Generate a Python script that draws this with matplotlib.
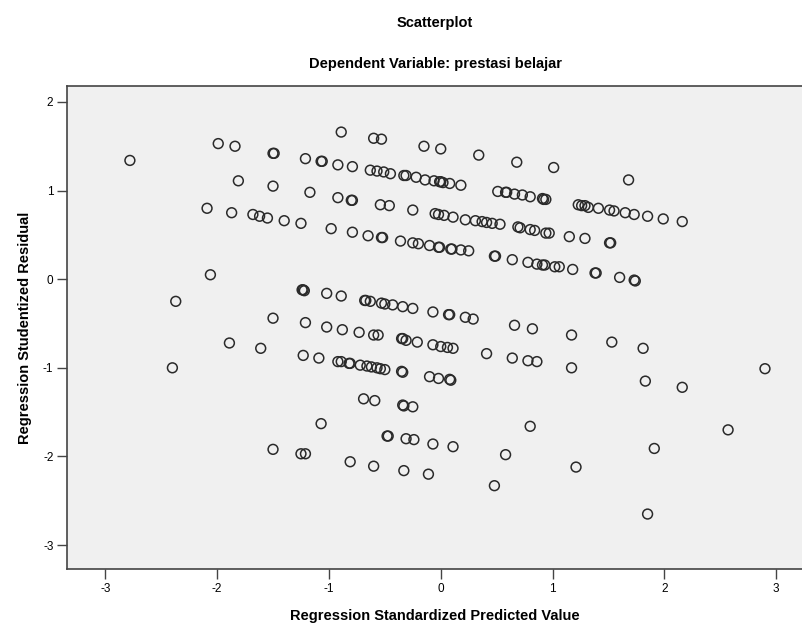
import numpy as np
import matplotlib.pyplot as plt

plt.rcParams['font.family'] = ['Liberation Sans', 'DejaVu Sans']
plt.rcParams['axes.unicode_minus'] = False

# regression standardized predicted value
pred = [-2.78, -1.99, -1.84, -1.50, -1.49, -1.21, -1.81, -1.50, -1.17, -2.09,
        -1.87, -1.68, -1.62, -1.55, -1.40, -1.25,
        -0.89, -0.60, -0.53, -0.15, 0.00, 0.34, 0.68, 1.01, 1.68,
        -1.07, -1.06, -0.92, -0.79, -0.63, -0.57, -0.51, -0.45, -0.33, -0.31,
        -0.22, -0.14, -0.06, -0.01, 0.00, 0.02, 0.08, 0.18, 0.51, 0.58, 0.59,
        0.66, 0.73, 0.80, 0.91, 0.92, 0.94, 1.23, 1.26, 1.29, 1.32, 1.41,
        1.51, 1.55, 1.65, 1.73, 1.85, 1.99, 2.16,
        -0.92, -0.80, -0.79, -0.54, -0.46, -0.25, -0.05, -0.02, 0.03, 0.11,
        0.22, 0.31, 0.37, 0.41, 0.46, 0.53, 0.69, 0.71, 0.80, 0.84, 0.94,
        0.97, 1.15, 1.29, 1.51, 1.52,
        -0.98, -0.79, -0.65, -0.53, -0.52, -0.36, -0.25, -0.20, -0.10, -0.02,
        -0.01, 0.09, 0.10, 0.18, 0.25, 0.48, 0.49, 0.64, 0.78, 0.86, 0.91,
        0.93, 1.02, 1.06, 1.18, 1.38, 1.39, 1.60, 1.73, 1.74,
        -2.06, -2.37, -1.50, -1.89, -1.61, -2.40,
        -1.24, -1.23, -1.22, -1.02, -0.89, -0.68, -0.67, -0.63, -0.53, -0.50,
        -0.43, -0.34, -0.25, -0.07, 0.07, 0.08, 0.22, 0.29,
        -1.21, -1.02, -0.88, -0.73, -0.60, -0.56, -0.35, -0.34, -0.31, -0.21,
        -0.07, 0.00, 0.06, 0.11, 0.66, 0.82, 1.17, 1.53, 1.81,
        -1.23, -1.09, -0.92, -0.89, -0.82, -0.81, -0.72, -0.66, -0.62, -0.57,
        -0.54, -0.50, -0.35, -0.34, -0.10, -0.02, 0.08, 0.09, 0.41, 0.64,
        0.78, 0.86, 1.17, 1.83, 2.16, 2.90,
        -0.69, -0.59, -0.34, -0.33, -0.25,
        -1.07, -0.48, -0.47, -0.31, -0.24, -0.07, 0.11, 0.80, 0.58, -0.81,
        -0.60, -0.33, -0.11, 0.48, -1.50, -1.25, -1.21, 2.57, 1.91, 1.21, 1.85]

# regression studentized residual
resid = [1.34, 1.53, 1.50, 1.42, 1.42, 1.36, 1.11, 1.05, 0.98, 0.80,
         0.75, 0.73, 0.71, 0.69, 0.66, 0.63,
         1.66, 1.59, 1.58, 1.50, 1.47, 1.40, 1.32, 1.26, 1.12,
         1.33, 1.33, 1.29, 1.27, 1.23, 1.22, 1.21, 1.19, 1.17, 1.17,
         1.15, 1.12, 1.11, 1.10, 1.10, 1.09, 1.08, 1.06, 0.99, 0.98, 0.98,
         0.96, 0.95, 0.93, 0.91, 0.90, 0.90, 0.84, 0.83, 0.83, 0.81, 0.80,
         0.78, 0.77, 0.75, 0.73, 0.71, 0.68, 0.65,
         0.92, 0.89, 0.89, 0.84, 0.83, 0.78, 0.74, 0.73, 0.72, 0.70,
         0.67, 0.66, 0.65, 0.64, 0.63, 0.62, 0.59, 0.58, 0.56, 0.55, 0.52,
         0.52, 0.48, 0.46, 0.41, 0.41,
         0.57, 0.53, 0.49, 0.47, 0.47, 0.43, 0.41, 0.40, 0.38, 0.36,
         0.36, 0.34, 0.34, 0.33, 0.32, 0.26, 0.26, 0.22, 0.19, 0.17, 0.16,
         0.16, 0.14, 0.14, 0.11, 0.07, 0.07, 0.02, -0.01, -0.02,
         0.05, -0.25, -0.44, -0.72, -0.78, -1.00,
         -0.12, -0.12, -0.13, -0.16, -0.19, -0.24, -0.24, -0.25, -0.27, -0.28,
         -0.29, -0.31, -0.33, -0.37, -0.40, -0.40, -0.43, -0.45,
         -0.49, -0.54, -0.57, -0.60, -0.63, -0.63, -0.67, -0.67, -0.69, -0.71,
         -0.74, -0.76, -0.77, -0.78, -0.52, -0.56, -0.63, -0.71, -0.78,
         -0.86, -0.89, -0.93, -0.93, -0.95, -0.95, -0.97, -0.98, -0.99, -1.00,
         -1.01, -1.02, -1.04, -1.05, -1.10, -1.12, -1.13, -1.14, -0.84, -0.89,
         -0.92, -0.93, -1.00, -1.15, -1.22, -1.01,
         -1.35, -1.37, -1.42, -1.43, -1.44,
         -1.63, -1.77, -1.77, -1.80, -1.81, -1.86, -1.89, -1.66, -1.98, -2.06,
         -2.11, -2.16, -2.20, -2.33, -1.92, -1.97, -1.97, -1.70, -1.91, -2.12, -2.65]

x_ticks = [-3, -2, -1, 0, 1, 2, 3]
y_ticks = [-3, -2, -1, 0, 1, 2]

fig = plt.figure(figsize=(8.03, 6.29), dpi=100)
ax = fig.add_axes([0.0838, 0.0954, 0.9162, 0.7679])
ax.set_facecolor('#f0f0f0')

ax.scatter(pred, resid, s=50, facecolors='none', edgecolors='#2a2a2a', linewidths=1.1)

ax.set_xlim(-3.34, 3.24)
ax.set_ylim(-3.27, 2.18)
ax.set_xticks(x_ticks)
ax.set_yticks(y_ticks)
ax.tick_params(direction='out', length=7, width=1, color='#444444',
               labelsize=8.5, pad=3)
for s in ['left', 'bottom', 'top']:
    ax.spines[s].set_color('#444444')
    ax.spines[s].set_linewidth(1.2)
ax.spines['right'].set_visible(False)

ax.set_xlabel('Regression Standardized Predicted Value', fontsize=10.5,
              fontweight='bold', labelpad=10)
ax.set_ylabel('Regression Studentized Residual', fontsize=10.5,
              fontweight='bold', labelpad=8)

fig.text(0.5419, 0.963, 'Scatterplot', ha='center', va='center',
         fontsize=10.5, fontweight='bold')
fig.text(0.5419, 0.899, 'Dependent Variable: prestasi belajar', ha='center',
         va='center', fontsize=10.5, fontweight='bold')

fig.savefig('out.png', dpi=100)
